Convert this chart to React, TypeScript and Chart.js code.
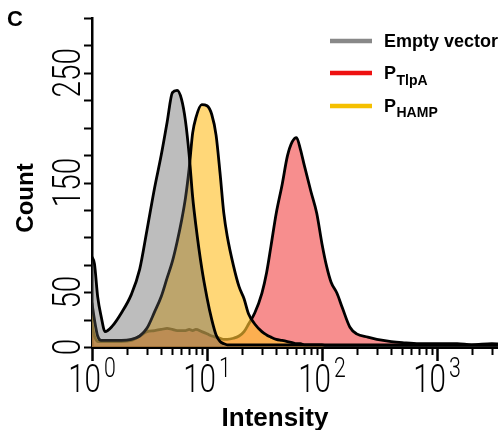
import React, { useEffect, useRef } from 'react';
import { Chart, registerables } from 'chart.js';

Chart.register(...registerables);

// Bin centres (intensity, log axis)
const intensity = [1, 1.05, 1.12, 1.2, 1.3, 1.5, 1.8, 2.2, 2.6, 3, 3.5, 4, 4.5, 5, 5.5, 6, 6.5, 7, 7.5, 8, 9, 10, 11, 12, 13, 14, 15, 17, 19, 21, 23, 26, 30, 33, 36, 40, 45, 50, 55, 60, 65, 70, 80, 90, 100, 110, 120, 135, 150, 175, 200, 250, 300, 400, 500, 700, 1000, 1500, 2000, 3000, 5000, 10000];

const emptyVector = [82, 76, 46, 28, 14, 19, 31, 48, 71, 106, 145, 175, 205, 232, 234, 226, 206, 175, 137, 111, 72, 45, 25, 11, 5, 3, 2, 2, 2, 2, 2, 2, 2, 2, 2, 2, 2, 2, 2, 2, 2, 2, 2, 2, 2, 2, 2, 2, 2, 2, 2, 2, 2, 2, 2, 2, 2, 2, 2, 2, 2, 2];

const pHAMP = [40, 25, 10, 6, 6, 6, 6, 7, 10, 17, 32, 46, 63, 78, 96, 115, 136, 163, 195, 209, 221, 220, 212, 193, 158, 122, 101, 74, 55, 44, 30, 21, 14, 11, 9, 7, 6, 5, 4, 3, 3, 2, 2, 2, 2, 1, 1, 1, 1, 1, 1, 1, 1, 1, 1, 1, 1, 1, 1, 1, 1, 1];

const pTlpA = [20, 10, 5, 5, 5, 5, 5, 6, 10, 14, 15, 16, 17, 16, 15, 15, 15, 16, 15, 16, 14, 12, 10, 9, 8, 7, 7, 8, 10, 14, 21, 31, 49, 68, 92, 122, 148, 174, 187, 191, 180, 166, 142, 122, 94, 73, 59, 49, 36, 18, 12, 9, 7, 5, 4, 3, 3, 3, 2, 3, 2, 2];

const yTickMarks = [0, 25, 50, 75, 100, 125, 150, 175, 200, 225, 250, 275, 300];
const yTickLabels = [0, 50, 150, 250];
const xDecades = [1, 10, 100, 1000, 10000];
const xDecadeExponents = ['0', '1', '2', '3', '4'];
const xMinorMultipliers = [2, 3, 4, 5, 6, 7, 8, 9];

const legendItems = [
  { main: 'Empty vector', sub: '', color: '#888888' },
  { main: 'P', sub: 'TlpA', color: '#ee1111' },
  { main: 'P', sub: 'HAMP', color: '#f5c000' },
];

const NUM_FONT = 'Roboto, "DejaVu Sans", sans-serif';
const BOLD_FONT = '"Liberation Sans", Arial, sans-serif';

function scaledText(ctx: CanvasRenderingContext2D, text: string, x: number, y: number, font: string, sx: number, align: CanvasTextAlign) {
  ctx.save();
  ctx.font = font;
  ctx.textAlign = align;
  ctx.textBaseline = 'alphabetic';
  ctx.translate(x, y);
  ctx.scale(sx, 1);
  ctx.fillText(text, 0, 0);
  ctx.restore();
}

const overlayPlugin = {
  id: 'overlay',
  afterDraw(chart: any) {
    const ctx: CanvasRenderingContext2D = chart.ctx;
    const xs = chart.scales.x;
    const ys = chart.scales.y;
    const area = chart.chartArea;
    ctx.save();
    ctx.strokeStyle = '#000';
    ctx.fillStyle = '#000';

    // y tick marks
    ctx.lineWidth = 2;
    for (const v of yTickMarks) {
      const p = Math.round(ys.getPixelForValue(v)) + 0.5;
      ctx.beginPath();
      ctx.moveTo(area.left - 8, p);
      ctx.lineTo(area.left, p);
      ctx.stroke();
    }

    // x tick marks
    for (const d of xDecades) {
      const mults = [1, ...xMinorMultipliers];
      for (const m of mults) {
        const v = m * d;
        if (v > xs.max) continue;
        const p = Math.round(xs.getPixelForValue(v)) + 0.5;
        ctx.lineWidth = m === 1 ? 2.5 : 2;
        ctx.beginPath();
        ctx.moveTo(p, area.bottom);
        ctx.lineTo(p, area.bottom + (m === 1 ? 14 : 8));
        ctx.stroke();
      }
    }

    const sx = 0.76;
    // x tick labels: 10^n
    xDecades.forEach((d, i) => {
      if (d > xs.max) return;
      const p = xs.getPixelForValue(d);
      ctx.font = `300 39px ${NUM_FONT}`;
      const wMain = ctx.measureText('10').width * sx;
      ctx.font = `300 28px ${NUM_FONT}`;
      const wSup = ctx.measureText(xDecadeExponents[i]).width * sx;
      const total = wMain + 3 + wSup;
      const start = p - total / 2;
      scaledText(ctx, '10', start, 392, `300 39px ${NUM_FONT}`, sx, 'left');
      scaledText(ctx, xDecadeExponents[i], start + wMain + 3, 377, `300 28px ${NUM_FONT}`, sx, 'left');
    });

    // y tick labels, rotated
    for (const v of yTickLabels) {
      const p = ys.getPixelForValue(v);
      ctx.save();
      ctx.translate(80, p);
      ctx.rotate(-Math.PI / 2);
      ctx.scale(0.76, 1);
      ctx.font = `300 39px ${NUM_FONT}`;
      ctx.textAlign = 'center';
      ctx.textBaseline = 'alphabetic';
      ctx.fillText(String(v), 0, 0);
      ctx.restore();
    }

    // Axis titles
    ctx.save();
    ctx.translate(33, 198);
    ctx.rotate(-Math.PI / 2);
    ctx.font = `bold 24px ${BOLD_FONT}`;
    ctx.textAlign = 'center';
    ctx.textBaseline = 'alphabetic';
    ctx.fillText('Count', 0, 0);
    ctx.restore();

    ctx.font = `bold 26px ${BOLD_FONT}`;
    ctx.textAlign = 'center';
    ctx.textBaseline = 'alphabetic';
    ctx.fillText('Intensity', 275, 426);

    // panel letter
    ctx.font = `bold 22px ${BOLD_FONT}`;
    ctx.textAlign = 'left';
    ctx.fillText('C', 7, 26);

    // legend
    const rows = [{ line: 41, base: 47, subBase: 0 }, { line: 73, base: 79, subBase: 85 }, { line: 106, base: 112, subBase: 117 }];
    legendItems.forEach((it, i) => {
      const r = rows[i];
      ctx.strokeStyle = it.color;
      ctx.lineWidth = 4.5;
      ctx.beginPath();
      ctx.moveTo(330, r.line);
      ctx.lineTo(372, r.line);
      ctx.stroke();
      ctx.fillStyle = '#000';
      ctx.font = `bold 18px ${BOLD_FONT}`;
      ctx.textAlign = 'left';
      ctx.fillText(it.main, 384, r.base);
      if (it.sub) {
        const w = ctx.measureText(it.main).width;
        ctx.font = `bold 14px ${BOLD_FONT}`;
        ctx.fillText(it.sub, 384 + w + 0.5, r.subBase);
      }
    });

    ctx.restore();
  },
};

export default function App() {
  const ref = useRef<HTMLCanvasElement | null>(null);

  useEffect(() => {
    if (!ref.current) return;
    const mk = (ys: number[]) => intensity.map((x, i) => ({ x, y: ys[i] }));
    const common = {
      borderColor: '#000',
      borderWidth: 2.8,
      borderJoinStyle: 'round',
      borderCapStyle: 'round',
      fill: 'origin',
      pointRadius: 0,
      cubicInterpolationMode: 'monotone',
    };
    const chart = new Chart(ref.current, {
      type: 'line',
      data: {
        datasets: [
          { ...common, label: 'Empty vector', data: mk(emptyVector), backgroundColor: 'rgba(90,90,90,0.4)' },
          { ...common, label: 'PHAMP', data: mk(pHAMP), backgroundColor: 'rgba(255,194,48,0.65)' },
          { ...common, label: 'PTlpA', data: mk(pTlpA), backgroundColor: 'rgba(240,30,30,0.5)' },
        ],
      },
      options: {
        animation: false,
        responsive: true,
        maintainAspectRatio: false,
        layout: { padding: { top: 18, left: 0, right: 0, bottom: 0 } },
        plugins: { legend: { display: false }, tooltip: { enabled: false } },
        scales: {
          x: {
            type: 'logarithmic',
            min: 1,
            max: 10000,
            grid: { display: false },
            ticks: { display: false },
            border: { display: true, color: '#000', width: 3 },
            afterFit: (s: any) => { s.height = 83; },
          },
          y: {
            type: 'linear',
            min: 0,
            max: 300,
            grid: { display: false },
            ticks: { display: false, stepSize: 25 },
            border: { display: true, color: '#000', width: 2.5 },
            afterFit: (s: any) => { s.width = 92; },
          },
        },
      },
      plugins: [overlayPlugin],
    } as any);
    return () => chart.destroy();
  }, []);

  return (
    <div style={{ position: 'fixed', left: 0, top: 0, width: 498, height: 430, overflow: 'hidden', background: '#fff' }}>
      <div style={{ position: 'relative', width: 552, height: 430 }}>
        <canvas ref={ref} />
      </div>
    </div>
  );
}
